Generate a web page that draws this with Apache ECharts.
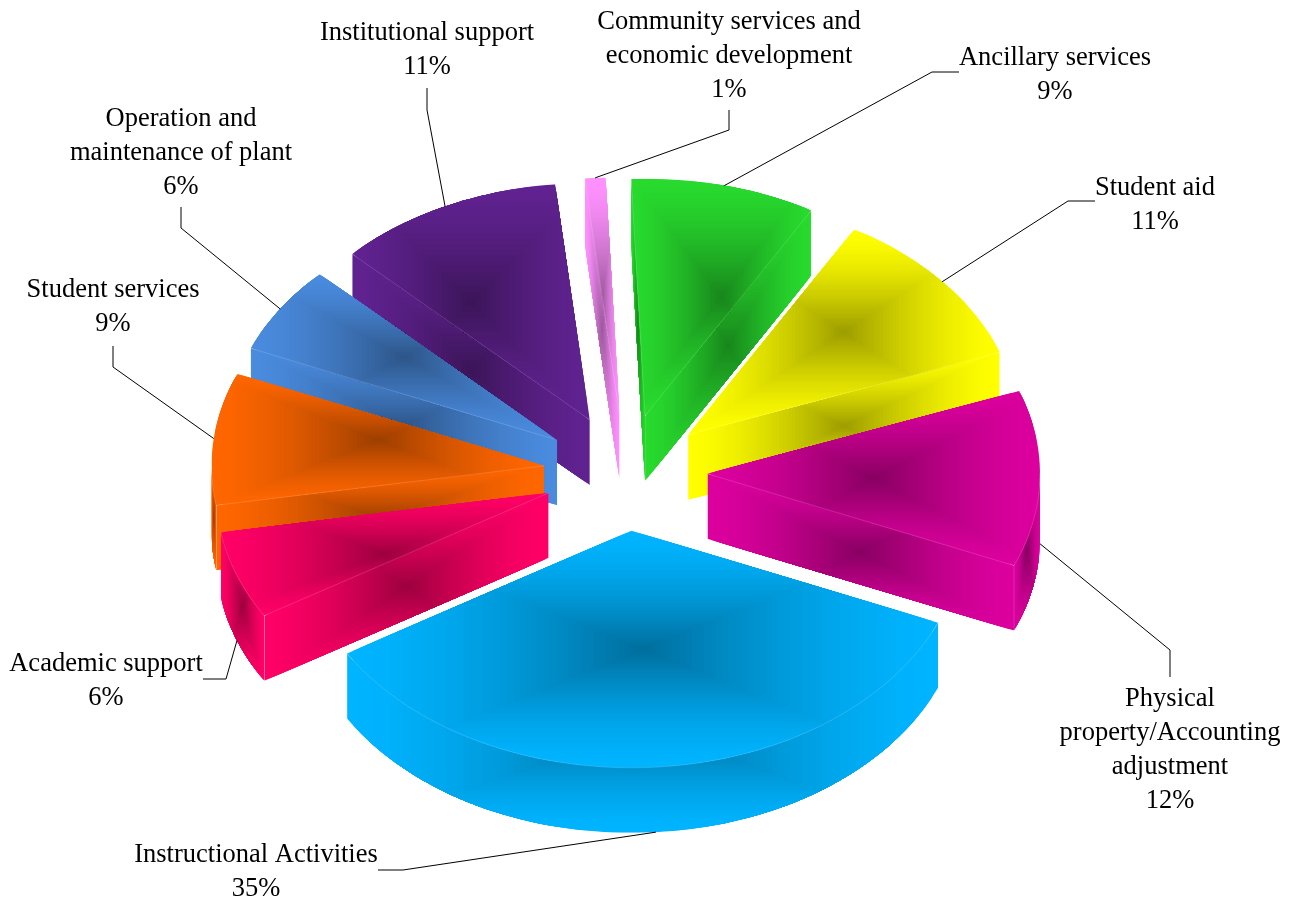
<!DOCTYPE html>
<html>
<head>
<meta charset="utf-8">
<style>html,body{margin:0;padding:0;background:#fff}#chart{width:1294px;height:899px}</style>
<script src="https://cdn.jsdelivr.net/npm/echarts@6/dist/echarts.min.js"></script>
</head>
<body>
<div id="chart"></div>
<script>
// Expenditure shares, clockwise from the front slice.
const categories = [
  'Instructional Activities', 'Academic support', 'Student services',
  'Operation and\nmaintenance of plant', 'Institutional support',
  'Community services and\neconomic development', 'Ancillary services',
  'Student aid', 'Physical\nproperty/Accounting\nadjustment'
];
const shares = [35, 6, 9, 6, 11, 1, 9, 11, 12];
const sliceColors = [
  [0, 180, 255], [255, 0, 102], [255, 102, 0], [74, 139, 222], [96, 34, 144],
  [255, 145, 255], [40, 218, 46], [255, 255, 0], [220, 0, 158]
];

// Label block centres (x, top of first line) and the elbow of each leader line.
const labelAnchors = [
  [256, 838], [106, 647], [113, 273], [181, 102], [427, 16],
  [729, 5], [1055, 41], [1155, 171], [1170, 682]
];
const leaderStarts = [
  [378, 870], [203, 679], [113, 346], [181, 207], [427, 88],
  [729, 110], [959, 72], [1095, 201], [1170, 677]
];
const leaderElbows = [
  [403, 870], [226, 679], [113, 367], [181, 228], [427, 110],
  [729, 130], [932, 72], [1068, 201], [1170, 650]
];

// Projection of the tilted pie.
const CX = 625.5, CY = 472.5, RX = 332.5, RY = 237, DEPTH = 65, EXPLODE = 82;
const START_DEG = 22.8, SHADE_STEPS = 48, SHADE_DEPTH = 0.38, SHADE_POWER = 1.5;
const total = shares.reduce((a, b) => a + b, 0);

const rad = d => d * Math.PI / 180;
const sliceAngles = [];
shares.reduce((from, v) => {
  const to = from + v / total * 360;
  sliceAngles.push([from, to]);
  return to;
}, START_DEG);

function apexOf(i) {
  const mid = rad((sliceAngles[i][0] + sliceAngles[i][1]) / 2);
  return [CX + EXPLODE * Math.cos(mid), CY + EXPLODE * Math.sin(mid) * RY / RX];
}
function rim(apex, deg, drop) {
  return [apex[0] + RX * Math.cos(rad(deg)), apex[1] + RY * Math.sin(rad(deg)) + (drop || 0)];
}
function arc(apex, from, to, drop) {
  const n = Math.max(2, Math.ceil(Math.abs(to - from) / 1.5));
  const pts = [];
  for (let k = 0; k <= n; k++) pts.push(rim(apex, from + (to - from) * k / n, drop));
  return pts;
}

// A face is clipped to its outline and filled with rectangles that shrink
// toward the centre of its bounding box, getting darker on the way in.
function shadedFace(points, rgb) {
  const xs = points.map(p => p[0]), ys = points.map(p => p[1]);
  const x0 = Math.min(...xs), x1 = Math.max(...xs);
  const y0 = Math.min(...ys), y1 = Math.max(...ys);
  const mx = (x0 + x1) / 2, my = (y0 + y1) / 2;
  const children = [];
  for (let k = 0; k < SHADE_STEPS; k++) {
    const t = k / (SHADE_STEPS - 1);
    const s = 1 - k / SHADE_STEPS;
    const f = 1 - SHADE_DEPTH * Math.pow(t, SHADE_POWER);
    const w = (x1 - x0) * s, h = (y1 - y0) * s;
    children.push({
      type: 'rect',
      silent: true,
      shape: { x: mx - w / 2, y: my - h / 2, width: w, height: h },
      style: { fill: `rgb(${rgb.map(c => Math.round(c * f)).join(',')})` }
    });
  }
  return {
    type: 'group',
    clipPath: { type: 'polygon', shape: { points } },
    children
  };
}
function hairline(points) {
  return {
    type: 'polyline',
    silent: true,
    shape: { points },
    style: { fill: null, stroke: 'rgba(255,255,255,0.3)', lineWidth: 0.5 }
  };
}

function renderSlice(params, api) {
  const i = api.value(1);
  const [from, to] = sliceAngles[i];
  const apex = apexOf(i);
  const rgb = sliceColors[i];
  const low = p => [p[0], p[1] + DEPTH];
  const topFace = [apex].concat(arc(apex, from, to));
  const children = [];
  const lines = [];

  // Inner walls, seen only when their outward side faces the viewer.
  if (Math.cos(rad(from)) < 0) {
    const r = rim(apex, from);
    children.push(shadedFace([apex, r, low(r), low(apex)], rgb));
    lines.push(hairline([apex, r]));
  }
  if (Math.cos(rad(to)) > 0) {
    const r = rim(apex, to);
    children.push(shadedFace([apex, r, low(r), low(apex)], rgb));
    lines.push(hairline([apex, r]));
    lines.push(hairline([r, low(r)]));
  }

  // Outer wall: the stretches of rim on the near half of the ellipse.
  for (let turn = 0; turn <= 360; turn += 360) {
    const a = Math.max(from, turn), b = Math.min(to, turn + 180);
    if (b > a) {
      const upper = arc(apex, a, b);
      const lower = arc(apex, a, b, DEPTH).reverse();
      children.push(shadedFace(upper.concat(lower), rgb));
      lines.push(hairline(upper));
    }
  }

  children.push(shadedFace(topFace, rgb));
  return { type: 'group', children: children.concat(lines) };
}

function renderLabel(params, api) {
  const i = api.value(1);
  const [from, to] = sliceAngles[i];
  const mid = (from + to) / 2;
  const tip = rim(apexOf(i), mid, Math.sin(rad(mid)) > 0 ? DEPTH : 0);
  return {
    type: 'group',
    children: [
      {
        type: 'polyline',
        silent: true,
        shape: { points: [leaderStarts[i], leaderElbows[i], tip] },
        style: { fill: null, stroke: '#000', lineWidth: 1 }
      },
      {
        type: 'text',
        silent: true,
        style: {
          text: categories[i] + '\n' + api.value(0) + '%',
          x: labelAnchors[i][0],
          y: labelAnchors[i][1],
          align: 'center',
          verticalAlign: 'top',
          font: '26.5px "Liberation Serif"',
          lineHeight: 34,
          fill: '#000'
        }
      }
    ]
  };
}

// Back slices are painted first so the nearer ones overlap them.
const paintOrder = shares.map((v, i) => i).sort((a, b) => {
  const m = j => Math.sin(rad((sliceAngles[j][0] + sliceAngles[j][1]) / 2));
  return m(a) - m(b);
});
const sliceData = paintOrder.map(i => [shares[i], i]);

const chart = echarts.init(document.getElementById('chart'), null, { renderer: 'canvas' });
chart.setOption({
  animation: false,
  backgroundColor: '#fff',
  series: [
    { type: 'custom', coordinateSystem: 'none', silent: true, z: 2, data: sliceData, renderItem: renderSlice },
    { type: 'custom', coordinateSystem: 'none', silent: true, z: 3, data: sliceData, renderItem: renderLabel }
  ]
});
</script>
</body>
</html>
